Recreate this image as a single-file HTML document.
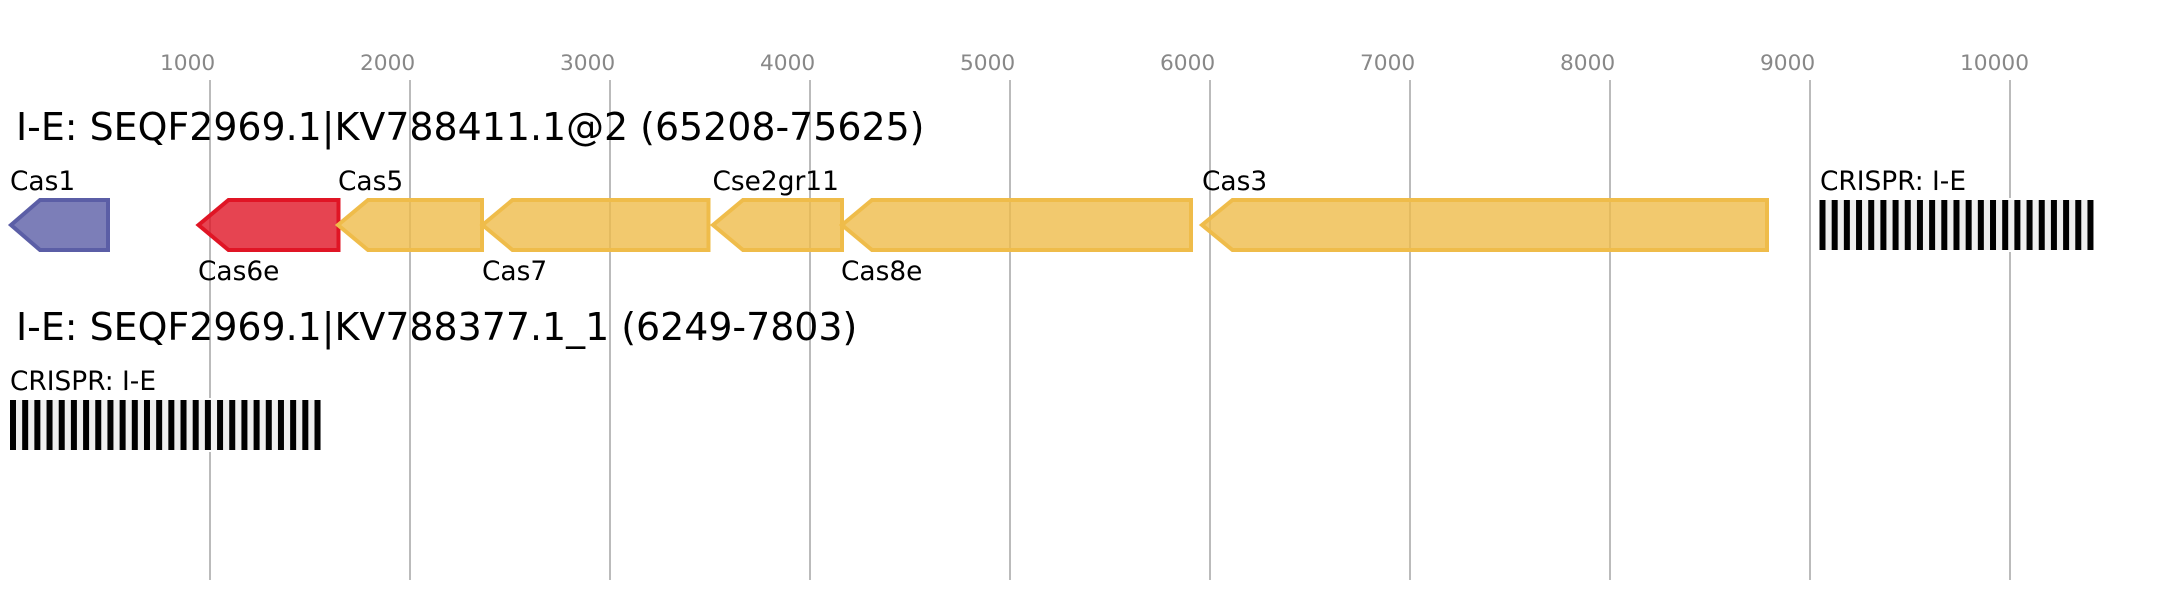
<!DOCTYPE html>
<html>
<head>
<meta charset="utf-8">
<style>
html,body{margin:0;padding:0;background:#fff;width:2183px;height:600px;overflow:hidden}
svg{display:block}
text{font-family:"DejaVu Sans",sans-serif}
.t{font-size:21.7px;fill:#888}
.h{font-size:37.9px;fill:#000}
.l{font-size:26.4px;fill:#000}
.y{fill:#efbc4a;fill-opacity:.8;stroke:#efbc4a;stroke-width:4}
</style>
</head>
<body>
<svg width="2183" height="600" viewBox="0 0 2183 600" xmlns="http://www.w3.org/2000/svg">
<rect width="2183" height="600" fill="#fff"/>
<g stroke="#bbb" stroke-width="2">
<line x1="210" y1="80" x2="210" y2="580"/>
<line x1="410" y1="80" x2="410" y2="580"/>
<line x1="610" y1="80" x2="610" y2="580"/>
<line x1="810" y1="80" x2="810" y2="580"/>
<line x1="1010" y1="80" x2="1010" y2="580"/>
<line x1="1210" y1="80" x2="1210" y2="580"/>
<line x1="1410" y1="80" x2="1410" y2="580"/>
<line x1="1610" y1="80" x2="1610" y2="580"/>
<line x1="1810" y1="80" x2="1810" y2="580"/>
<line x1="2010" y1="80" x2="2010" y2="580"/>
</g>
<g class="t">
<text class="t" x="160" y="70">1000</text>
<text class="t" x="360" y="70">2000</text>
<text class="t" x="560" y="70">3000</text>
<text class="t" x="760" y="70">4000</text>
<text class="t" x="960" y="70">5000</text>
<text class="t" x="1160" y="70">6000</text>
<text class="t" x="1360" y="70">7000</text>
<text class="t" x="1560" y="70">8000</text>
<text class="t" x="1760" y="70">9000</text>
<text class="t" x="1960" y="70">10000</text>
</g>
<text class="h" x="16" y="140">I-E: SEQF2969.1|KV788411.1@2 (65208-75625)</text>
<text class="h" x="16" y="340">I-E: SEQF2969.1|KV788377.1_1 (6249-7803)</text>

<polygon points="11,225 40,200 108,200 108,250 40,250" fill="#5b5ea6" fill-opacity=".8" stroke="#5b5ea6" stroke-width="4"/>
<polygon points="198.5,225 228.5,200 338.5,200 338.5,250 228.5,250" fill="#e01525" fill-opacity=".8" stroke="#e01525" stroke-width="4"/>
<polygon class="y" points="338,225 368,200 482,200 482,250 368,250"/>
<polygon class="y" points="482.5,225 512.5,200 708.5,200 708.5,250 512.5,250"/>
<polygon class="y" points="713,225 743,200 842,200 842,250 743,250"/>
<polygon class="y" points="842,225 872,200 1191,200 1191,250 872,250"/>
<polygon class="y" points="1202,225 1232.5,200 1767,200 1767,250 1232.5,250"/>

<text class="l" x="10" y="190">Cas1</text>
<text class="l" x="198" y="280">Cas6e</text>
<text class="l" x="338" y="190">Cas5</text>
<text class="l" x="482" y="280">Cas7</text>
<text class="l" x="712.5" y="190">Cse2gr11</text>
<text class="l" x="841" y="280">Cas8e</text>
<text class="l" x="1202" y="190">Cas3</text>
<text class="l" x="1820" y="190">CRISPR: I-E</text>
<text class="l" x="10" y="390">CRISPR: I-E</text>

<!-- CRISPR array row 1 -->
<rect x="1817" y="198" width="280" height="54" fill="#fff"/>
<rect x="1819.5" y="200" width="274" height="50" fill="#eee"/>
<g fill="#000">
<rect x="1819.5" y="200" width="6" height="50"/>
<rect x="1831.68" y="200" width="6" height="50"/>
<rect x="1843.86" y="200" width="6" height="50"/>
<rect x="1856.04" y="200" width="6" height="50"/>
<rect x="1868.22" y="200" width="6" height="50"/>
<rect x="1880.4" y="200" width="6" height="50"/>
<rect x="1892.58" y="200" width="6" height="50"/>
<rect x="1904.76" y="200" width="6" height="50"/>
<rect x="1916.94" y="200" width="6" height="50"/>
<rect x="1929.12" y="200" width="6" height="50"/>
<rect x="1941.3" y="200" width="6" height="50"/>
<rect x="1953.48" y="200" width="6" height="50"/>
<rect x="1965.66" y="200" width="6" height="50"/>
<rect x="1977.84" y="200" width="6" height="50"/>
<rect x="1990.02" y="200" width="6" height="50"/>
<rect x="2002.2" y="200" width="6" height="50"/>
<rect x="2014.38" y="200" width="6" height="50"/>
<rect x="2026.56" y="200" width="6" height="50"/>
<rect x="2038.74" y="200" width="6" height="50"/>
<rect x="2050.92" y="200" width="6" height="50"/>
<rect x="2063.1" y="200" width="6" height="50"/>
<rect x="2075.28" y="200" width="6" height="50"/>
<rect x="2087.46" y="200" width="6" height="50"/>
</g>

<!-- CRISPR array row 2 -->
<rect x="8" y="398" width="315" height="54" fill="#fff"/>
<rect x="10" y="400" width="311" height="50" fill="#eee"/>
<g fill="#000">
<rect x="10" y="400" width="6" height="50"/>
<rect x="22.18" y="400" width="6" height="50"/>
<rect x="34.36" y="400" width="6" height="50"/>
<rect x="46.54" y="400" width="6" height="50"/>
<rect x="58.72" y="400" width="6" height="50"/>
<rect x="70.9" y="400" width="6" height="50"/>
<rect x="83.08" y="400" width="6" height="50"/>
<rect x="95.26" y="400" width="6" height="50"/>
<rect x="107.44" y="400" width="6" height="50"/>
<rect x="119.62" y="400" width="6" height="50"/>
<rect x="131.8" y="400" width="6" height="50"/>
<rect x="143.98" y="400" width="6" height="50"/>
<rect x="156.16" y="400" width="6" height="50"/>
<rect x="168.34" y="400" width="6" height="50"/>
<rect x="180.52" y="400" width="6" height="50"/>
<rect x="192.7" y="400" width="6" height="50"/>
<rect x="204.88" y="400" width="6" height="50"/>
<rect x="217.06" y="400" width="6" height="50"/>
<rect x="229.24" y="400" width="6" height="50"/>
<rect x="241.42" y="400" width="6" height="50"/>
<rect x="253.6" y="400" width="6" height="50"/>
<rect x="265.78" y="400" width="6" height="50"/>
<rect x="277.96" y="400" width="6" height="50"/>
<rect x="290.14" y="400" width="6" height="50"/>
<rect x="302.32" y="400" width="6" height="50"/>
<rect x="314.5" y="400" width="6" height="50"/>
</g>
</svg>
</body>
</html>
